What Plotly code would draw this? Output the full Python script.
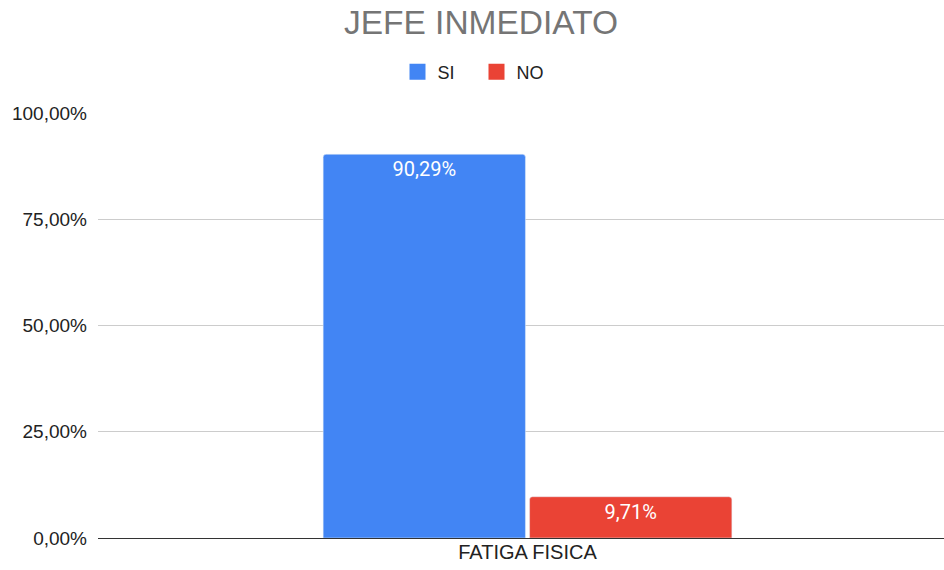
import plotly.graph_objects as go

categories = ["FATIGA FISICA"]
si_values = [0.9029]
no_values = [0.0971]
si_labels = ["90,29%"]
no_labels = ["9,71%"]
tick_vals = [0, 0.25, 0.5, 0.75, 1.0]
tick_text = ["0,00%", "25,00%", "50,00%", "75,00%", "100,00%"]
series_names = ["SI", "NO"]
series_colors = ["#4285f4", "#ea4335"]

fig = go.Figure()
for name, vals, labels, color in zip(series_names, [si_values, no_values], [si_labels, no_labels], series_colors):
    fig.add_trace(go.Bar(name=name, x=categories, y=vals, text=labels,
                         marker=dict(color=color, cornerradius=3),
                         textposition="inside", insidetextanchor="end",
                         textfont=dict(color="white", size=20, family="Roboto"),
                         hoverinfo="skip", showlegend=False))
# legend entries
for name, color in zip(series_names, series_colors):
    fig.add_trace(go.Scatter(name=name, x=[None], y=[None], mode="markers",
                             marker=dict(symbol="square", size=20, color=color),
                             showlegend=True, hoverinfo="skip"))

fig.update_layout(
    width=944, height=570,
    margin=dict(l=98, r=0, t=113, b=32),
    paper_bgcolor="white", plot_bgcolor="white",
    font=dict(family="Liberation Sans, Arial", color="#222222"),
    title=dict(text="JEFE INMEDIATO", x=481/944, xanchor="center", xref="container",
               y=1 - 22/570, yanchor="middle", yref="container",
               font=dict(size=33.5, color="#757575", family="Liberation Sans, Arial")),
    legend=dict(orientation="h", x=476.5/944, xanchor="center", xref="container",
                y=1 - 72/570, yanchor="middle", yref="container",
                font=dict(size=18, color="#222222"), traceorder="normal",
                itemsizing="trace", entrywidth=34, entrywidthmode="pixels"),
    barmode="group", bargap=0.512, bargroupgap=0.02,
    showlegend=True,
)
fig.update_xaxes(range=[-0.5077, 0.4923], showgrid=False, showline=False,
                 tickfont=dict(size=20, color="#222222"), ticks="")
fig.update_yaxes(range=[0, 1.0], tickvals=tick_vals, ticktext=tick_text,
                 showgrid=True, gridcolor="#cccccc", gridwidth=1,
                 zeroline=True, zerolinecolor="#333333", zerolinewidth=1,
                 tickfont=dict(size=19, color="#222222"), ticks="", ticklabelstandoff=10)

fig.write_html("out.html", config={"displayModeBar": False},
               post_script="document.body.style.margin='0';")
